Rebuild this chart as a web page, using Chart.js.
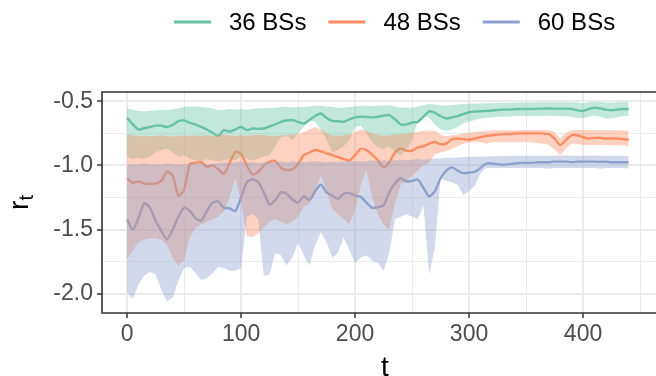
<!DOCTYPE html>
<html>
<head>
<meta charset="utf-8">
<script src="https://cdn.jsdelivr.net/npm/chart.js@4"></script>
<style>
  html, body { margin: 0; padding: 0; background: #ffffff; }
  #wrap { width: 656px; height: 376px; }
</style>
</head>
<body>
<div id="wrap"><canvas id="c" width="656" height="376"></canvas></div>
<script>
// Time steps
const t = [
  0, 5, 10, 15, 20, 25, 30, 35, 40, 45,
  50, 55, 60, 65, 70, 75, 80, 85, 90, 95,
  100, 105, 110, 115, 120, 125, 130, 135, 140, 145,
  150, 155, 160, 165, 170, 175, 180, 185, 190, 195,
  200, 205, 210, 215, 220, 225, 230, 235, 240, 245,
  250, 255, 260, 265, 270, 275, 280, 285, 290, 295,
  300, 305, 310, 315, 320, 325, 330, 335, 340, 345,
  350, 355, 360, 365, 370, 375, 380, 385, 390, 395,
  400, 405, 410, 415, 420, 425, 430, 435, 440
];

// 36 BSs: mean reward and band
const mean36 = [
  -0.63, -0.68, -0.72, -0.71, -0.70, -0.69, -0.69, -0.70, -0.685, -0.655,
  -0.65, -0.668, -0.68, -0.70, -0.72, -0.745, -0.77, -0.725, -0.735, -0.72,
  -0.70, -0.725, -0.712, -0.715, -0.712, -0.695, -0.68, -0.66, -0.65, -0.647,
  -0.66, -0.673, -0.645, -0.615, -0.595, -0.63, -0.652, -0.655, -0.66, -0.64,
  -0.625, -0.62, -0.622, -0.625, -0.62, -0.612, -0.608, -0.64, -0.68, -0.68,
  -0.665, -0.66, -0.62, -0.578, -0.59, -0.615, -0.634, -0.625, -0.615, -0.60,
  -0.585, -0.58, -0.578, -0.575, -0.572, -0.568, -0.565, -0.565, -0.562, -0.56,
  -0.56, -0.56, -0.558, -0.557, -0.556, -0.557, -0.557, -0.557, -0.56, -0.57,
  -0.575, -0.56, -0.55, -0.555, -0.565, -0.57, -0.565, -0.56, -0.56
];
const upper36 = [
  -0.555, -0.565, -0.575, -0.58, -0.575, -0.57, -0.565, -0.57, -0.56, -0.555,
  -0.545, -0.54, -0.54, -0.545, -0.55, -0.555, -0.57, -0.565, -0.56, -0.565,
  -0.56, -0.565, -0.56, -0.555, -0.555, -0.55, -0.55, -0.545, -0.545, -0.548,
  -0.545, -0.545, -0.54, -0.535, -0.535, -0.54, -0.545, -0.55, -0.55, -0.545,
  -0.54, -0.535, -0.535, -0.538, -0.535, -0.532, -0.53, -0.54, -0.548, -0.55,
  -0.55, -0.54, -0.53, -0.522, -0.525, -0.53, -0.532, -0.528, -0.525, -0.522,
  -0.52, -0.518, -0.518, -0.515, -0.515, -0.513, -0.512, -0.512, -0.51, -0.51,
  -0.51, -0.51, -0.508, -0.508, -0.507, -0.508, -0.508, -0.507, -0.508, -0.512,
  -0.515, -0.508, -0.503, -0.505, -0.51, -0.512, -0.508, -0.505, -0.505
];
const lower36 = [
  -0.93, -0.95, -0.94, -0.95, -0.93, -0.90, -0.88, -0.87, -0.90, -0.93,
  -0.92, -0.95, -0.96, -0.97, -0.95, -0.96, -0.97, -0.96, -0.95, -0.96,
  -0.93, -0.95, -0.96, -0.95, -0.93, -0.92, -0.85, -0.78, -0.77, -0.80,
  -0.75, -0.70, -0.65, -0.66, -0.72, -0.80, -0.90, -0.88, -0.85, -0.80,
  -0.70, -0.69, -0.75, -0.82, -0.86, -0.87, -0.85, -0.90, -0.92, -0.88,
  -0.80, -0.66, -0.61, -0.63, -0.68, -0.72, -0.73, -0.72, -0.70, -0.67,
  -0.66, -0.645, -0.635, -0.63, -0.625, -0.62, -0.62, -0.618, -0.615, -0.615,
  -0.615, -0.615, -0.615, -0.613, -0.612, -0.613, -0.615, -0.617, -0.62, -0.63,
  -0.63, -0.62, -0.61, -0.62, -0.635, -0.635, -0.625, -0.615, -0.615
];

// 48 BSs: mean reward and band
const mean48 = [
  -1.10, -1.135, -1.125, -1.14, -1.145, -1.14, -1.12, -1.05, -1.08, -1.235,
  -1.19, -0.99, -0.98, -0.975, -1.01, -1.00, -1.03, -1.065, -0.98, -0.895,
  -0.91, -1.00, -1.07, -1.05, -1.00, -0.97, -0.965, -1.02, -1.035, -1.03,
  -0.99, -0.92, -0.90, -0.88, -0.89, -0.905, -0.92, -0.935, -0.95, -0.96,
  -0.92, -0.87, -0.88, -0.915, -0.96, -1.015, -0.975, -0.90, -0.867, -0.885,
  -0.885, -0.86, -0.85, -0.83, -0.817, -0.835, -0.83, -0.795, -0.79, -0.795,
  -0.80, -0.79, -0.78, -0.77, -0.765, -0.76, -0.756, -0.755, -0.752, -0.75,
  -0.75, -0.75, -0.75, -0.752, -0.755, -0.79, -0.84, -0.80, -0.765, -0.765,
  -0.78, -0.79, -0.785, -0.785, -0.79, -0.79, -0.79, -0.795, -0.80
];
const upper48 = [
  -0.76, -0.765, -0.77, -0.775, -0.77, -0.77, -0.765, -0.77, -0.775, -0.77,
  -0.765, -0.77, -0.765, -0.77, -0.765, -0.77, -0.765, -0.76, -0.765, -0.77,
  -0.765, -0.77, -0.765, -0.76, -0.765, -0.77, -0.77, -0.765, -0.765, -0.76,
  -0.755, -0.74, -0.72, -0.70, -0.72, -0.75, -0.765, -0.77, -0.765, -0.76,
  -0.74, -0.72, -0.73, -0.75, -0.76, -0.77, -0.765, -0.76, -0.755, -0.75,
  -0.745, -0.74, -0.73, -0.725, -0.73, -0.76, -0.77, -0.765, -0.76, -0.75,
  -0.745, -0.74, -0.735, -0.73, -0.728, -0.726, -0.725, -0.725, -0.724, -0.724,
  -0.724, -0.724, -0.723, -0.724, -0.725, -0.74, -0.79, -0.745, -0.725, -0.724,
  -0.724, -0.726, -0.725, -0.724, -0.725, -0.726, -0.726, -0.727, -0.728
];
const lower48 = [
  -1.73, -1.66, -1.60, -1.58, -1.57, -1.57, -1.58, -1.62, -1.72, -1.78,
  -1.74, -1.56, -1.49, -1.46, -1.44, -1.42, -1.40, -1.36, -1.25, -1.10,
  -1.28, -1.55, -1.56, -1.53, -1.48, -1.44, -1.42, -1.44, -1.46, -1.44,
  -1.40, -1.32, -1.30, -1.20, -1.08, -1.20, -1.34, -1.38, -1.42, -1.46,
  -1.35, -1.15, -1.04, -1.25, -1.38, -1.46, -1.50, -1.30, -1.15, -1.12,
  -1.08, -1.04, -1.00, -0.98, -0.91, -0.90, -0.89, -0.87, -0.85, -0.83,
  -0.82, -0.82, -0.82, -0.83, -0.82, -0.82, -0.82, -0.82, -0.82, -0.82,
  -0.82, -0.82, -0.825, -0.83, -0.84, -0.88, -0.92, -0.87, -0.83, -0.83,
  -0.84, -0.84, -0.84, -0.84, -0.84, -0.84, -0.845, -0.845, -0.85
];

// 60 BSs: mean reward and band
const mean60 = [
  -1.42, -1.50, -1.41, -1.295, -1.33, -1.43, -1.51, -1.575, -1.50, -1.40,
  -1.33, -1.355, -1.41, -1.43, -1.355, -1.29, -1.28, -1.33, -1.335, -1.355,
  -1.25, -1.13, -1.11, -1.13, -1.21, -1.305, -1.27, -1.21, -1.22, -1.265,
  -1.29, -1.24, -1.27, -1.20, -1.15, -1.21, -1.235, -1.26, -1.22, -1.215,
  -1.235, -1.245, -1.29, -1.33, -1.325, -1.31, -1.21, -1.14, -1.10, -1.125,
  -1.12, -1.11, -1.175, -1.24, -1.20, -1.10, -1.04, -1.015, -1.04, -1.06,
  -1.055, -1.05, -1.02, -0.985, -0.985, -0.99, -0.995, -0.99, -0.985, -0.98,
  -0.98, -0.98, -0.975, -0.975, -0.975, -0.97, -0.97, -0.97, -0.975, -0.97,
  -0.97, -0.97, -0.97, -0.972, -0.97, -0.975, -0.975, -0.975, -0.975
];
const upper60 = [
  -0.99, -0.995, -0.99, -0.985, -0.99, -0.995, -0.99, -0.985, -0.99, -0.995,
  -0.99, -0.985, -0.98, -0.985, -0.99, -0.985, -0.98, -0.975, -0.98, -0.975,
  -0.97, -0.975, -0.975, -0.98, -0.975, -0.97, -0.975, -0.97, -0.975, -0.97,
  -0.97, -0.975, -0.97, -0.965, -0.97, -0.975, -0.97, -0.975, -0.97, -0.965,
  -0.965, -0.97, -0.965, -0.96, -0.965, -0.96, -0.965, -0.96, -0.955, -0.96,
  -0.955, -0.95, -0.955, -0.95, -0.945, -0.945, -0.94, -0.94, -0.938, -0.935,
  -0.935, -0.932, -0.93, -0.93, -0.928, -0.928, -0.926, -0.926, -0.925, -0.925,
  -0.925, -0.925, -0.924, -0.924, -0.924, -0.924, -0.923, -0.923, -0.924, -0.924,
  -0.924, -0.923, -0.923, -0.924, -0.924, -0.925, -0.925, -0.925, -0.926
];
const lower60 = [
  -1.99, -2.04, -1.93, -1.86, -1.83, -1.85, -1.97, -2.06, -2.03, -1.90,
  -1.80, -1.79, -1.84, -1.89, -1.88, -1.84, -1.79, -1.80, -1.82, -1.82,
  -1.80, -1.40, -1.38, -1.42, -1.86, -1.85, -1.68, -1.70, -1.78, -1.72,
  -1.60, -1.70, -1.78, -1.62, -1.52, -1.60, -1.72, -1.68, -1.56, -1.66,
  -1.76, -1.72, -1.70, -1.74, -1.76, -1.82, -1.68, -1.42, -1.40, -1.38,
  -1.40, -1.42, -1.31, -1.85, -1.64, -1.10, -1.12, -1.13, -1.15, -1.23,
  -1.20, -1.16, -1.06, -1.02, -1.02, -1.02, -1.02, -1.02, -1.02, -1.02,
  -1.02, -1.02, -1.02, -1.02, -1.025, -1.02, -1.02, -1.02, -1.02, -1.02,
  -1.02, -1.02, -1.02, -1.025, -1.02, -1.02, -1.02, -1.02, -1.025
];

const seriesNames = ['36 BSs', '48 BSs', '60 BSs'];
const seriesColors = ['#66C2A5', '#FC8D62', '#8DA0CB'];

// Axis breaks
const xMajor = [0, 100, 200, 300, 400];
const xMinor = [50, 150, 250, 350, 450];
const yMajor = [-2.0, -1.5, -1.0, -0.5];
const yMinor = [-1.75, -1.25, -0.75];

const FONT = '"Liberation Sans", Arial, Helvetica, sans-serif';

function toPoints(values) {
  return values.map((v, i) => ({ x: t[i], y: v }));
}
function withAlpha(hex, a) {
  const n = parseInt(hex.slice(1), 16);
  return `rgba(${(n >> 16) & 255}, ${(n >> 8) & 255}, ${n & 255}, ${a})`;
}
function isIn(list, v) {
  return list.some(m => Math.abs(m - v) < 1e-9);
}

const means = [mean36, mean48, mean60];
const uppers = [upper36, upper48, upper60];
const lowers = [lower36, lower48, lower60];

const datasets = [];
// mean lines first (drawn underneath the translucent bands)
means.forEach((m, k) => {
  datasets.push({
    label: seriesNames[k],
    data: toPoints(m),
    borderColor: seriesColors[k],
    borderWidth: 2.4,
    pointRadius: 0,
    tension: 0.25,
    fill: false,
    order: 6 - k,
    isKey: true
  });
});
// bands: upper edge filled down to the lower edge
uppers.forEach((u, k) => {
  const lowIndex = datasets.length + 1;
  datasets.push({
    label: seriesNames[k] + ' upper',
    data: toPoints(u),
    borderColor: 'rgba(0,0,0,0)',
    borderWidth: 0,
    backgroundColor: withAlpha(seriesColors[k], 0.4),
    pointRadius: 0,
    tension: 0,
    fill: lowIndex,
    order: 3 - k
  });
  datasets.push({
    label: seriesNames[k] + ' lower',
    data: toPoints(lowers[k]),
    borderColor: 'rgba(0,0,0,0)',
    borderWidth: 0,
    pointRadius: 0,
    tension: 0,
    fill: false,
    order: 3 - k
  });
});

// panel frame, key and axis titles
const decorations = {
  id: 'decorations',
  afterDatasetsDraw(chart) {
    const { ctx, chartArea } = chart;
    ctx.save();
    ctx.strokeStyle = '#333333';
    ctx.lineWidth = 1.6;
    ctx.beginPath();
    ctx.moveTo(chartArea.right + 4, chartArea.top);
    ctx.lineTo(chartArea.left, chartArea.top);
    ctx.lineTo(chartArea.left, chartArea.bottom);
    ctx.lineTo(chartArea.right + 4, chartArea.bottom);
    ctx.stroke();
    ctx.restore();
  },
  afterDraw(chart) {
    const { ctx } = chart;
    ctx.save();
    // key
    ctx.font = `24px ${FONT}`;
    ctx.textBaseline = 'middle';
    ctx.textAlign = 'left';
    let x = 174;
    const ky = 22;
    chart.data.datasets.filter(d => d.isKey).forEach(d => {
      ctx.strokeStyle = d.borderColor;
      ctx.lineWidth = 2.8;
      ctx.beginPath();
      ctx.moveTo(x, ky);
      ctx.lineTo(x + 37, ky);
      ctx.stroke();
      ctx.fillStyle = '#000000';
      ctx.fillText(d.label, x + 55, ky + 1);
      x += 55 + ctx.measureText(d.label).width + 22;
    });
    // x title
    ctx.textAlign = 'center';
    ctx.textBaseline = 'alphabetic';
    ctx.font = `28px ${FONT}`;
    ctx.fillText('t', 385, 376);
    // y title with subscript
    const cy = (chart.chartArea.top + chart.chartArea.bottom) / 2;
    ctx.translate(28, cy);
    ctx.rotate(-Math.PI / 2);
    ctx.font = `28px ${FONT}`;
    const wr = ctx.measureText('r').width;
    ctx.font = `20px ${FONT}`;
    const wt = ctx.measureText('t').width;
    const start = -(wr + wt) / 2;
    ctx.textAlign = 'left';
    ctx.font = `28px ${FONT}`;
    ctx.fillText('r', start, 0);
    ctx.font = `20px ${FONT}`;
    ctx.fillText('t', start + wr, 5);
    ctx.restore();
  }
};

const majorOrMinorGrid = (major) => (c) => (c.tick && isIn(major, c.tick.value) ? 2 : 1);

new Chart(document.getElementById('c'), {
  type: 'line',
  data: { datasets },
  plugins: [decorations],
  options: {
    responsive: false,
    animation: false,
    devicePixelRatio: 1,
    layout: { padding: { top: 92, right: 0, bottom: 0, left: 0 } },
    plugins: { legend: { display: false }, tooltip: { enabled: false } },
    scales: {
      x: {
        type: 'linear',
        min: -22,
        max: 464,
        afterBuildTicks: (s) => {
          s.ticks = xMajor.concat(xMinor).sort((a, b) => a - b).map(v => ({ value: v }));
        },
        afterFit: (s) => { s.height = 63; },
        ticks: {
          autoSkip: false,
          maxRotation: 0,
          padding: 3,
          color: '#4D4D4D',
          font: { family: FONT, size: 23 },
          callback: (v) => (isIn(xMajor, v) ? String(v) : '')
        },
        grid: {
          color: '#EBEBEB',
          lineWidth: majorOrMinorGrid(xMajor),
          tickLength: 5,
          tickWidth: 1.5,
          tickColor: (c) => (c.tick && isIn(xMajor, c.tick.value) ? '#333333' : 'rgba(0,0,0,0)')
        },
        border: { display: false }
      },
      y: {
        type: 'linear',
        min: -2.15,
        max: -0.4275,
        afterBuildTicks: (s) => {
          s.ticks = yMajor.concat(yMinor).sort((a, b) => a - b).map(v => ({ value: v }));
        },
        afterFit: (s) => { s.width = 102; },
        ticks: {
          autoSkip: false,
          padding: 4,
          color: '#4D4D4D',
          font: { family: FONT, size: 23 },
          callback: (v) => (isIn(yMajor, v) ? v.toFixed(1) : '')
        },
        grid: {
          color: '#EBEBEB',
          lineWidth: majorOrMinorGrid(yMajor),
          tickLength: 5,
          tickWidth: 1.5,
          tickColor: (c) => (c.tick && isIn(yMajor, c.tick.value) ? '#333333' : 'rgba(0,0,0,0)')
        },
        border: { display: false }
      }
    }
  }
});
</script>
</body>
</html>
